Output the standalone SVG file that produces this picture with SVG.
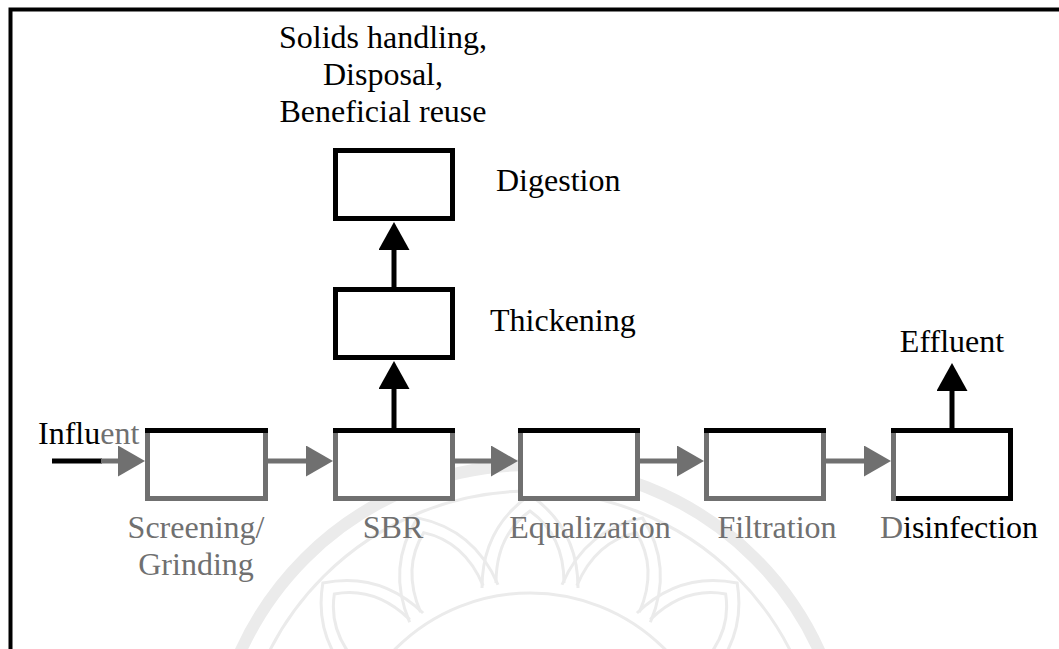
<svg xmlns="http://www.w3.org/2000/svg" xmlns:xlink="http://www.w3.org/1999/xlink" width="1059" height="649" viewBox="0 0 1059 649">
  <style>
    text { font-family: 'Liberation Serif', 'Times New Roman', Times, 'DejaVu Serif', serif; font-size: 32px; }
    .blk { fill: #000; }
    .gry { fill: #707070; }
    .box { fill: #fff; stroke: #000; stroke-width: 5; }
    .boxg { fill: #fff; stroke: #707070; stroke-width: 5; }
    .edge { stroke: #000; stroke-width: 5; fill: none; }
    .lineb { stroke: #000; stroke-width: 5; fill: none; }
    .lineg { stroke: #707070; stroke-width: 5; fill: none; }
    .wm { fill: none; stroke: #ebebeb; }
  </style>
  <defs>
    <marker id="ahB" markerUnits="userSpaceOnUse" markerWidth="28" markerHeight="31" refX="0" refY="15.5" orient="auto">
      <path d="M0,0 L28,15.5 L0,31 Z" fill="#000"/>
    </marker>
    <marker id="ahG" markerUnits="userSpaceOnUse" markerWidth="28" markerHeight="31" refX="0" refY="15.5" orient="auto">
      <path d="M0,0 L27,15.5 L0,31 Z" fill="#707070"/>
    </marker>
    <path id="petal" d="M-48,-195 Q-48,-255 0,-288 Q48,-255 48,-195 M-34,-200 Q-34,-248 0,-272 Q34,-248 34,-200"/>
  </defs>

  <rect width="1059" height="649" fill="#fff"/>

  <!-- faint watermark emblem -->
  <g id="watermark" transform="translate(530 783)">
    <circle r="318" class="wm" stroke-width="12"/>
    <circle r="292" class="wm" stroke-width="3"/>
    <g class="wm" stroke-width="3">
      <use xlink:href="#petal" transform="rotate(-69)"/>
      <use xlink:href="#petal" transform="rotate(-46)"/>
      <use xlink:href="#petal" transform="rotate(-23)"/>
      <use xlink:href="#petal"/>
      <use xlink:href="#petal" transform="rotate(23)"/>
      <use xlink:href="#petal" transform="rotate(46)"/>
      <use xlink:href="#petal" transform="rotate(69)"/>
    </g>
    <circle r="190" class="wm" stroke-width="3"/>
  </g>

  <!-- frame -->
  <path d="M10.5,649 V9.5 H1059" fill="none" stroke="#000" stroke-width="4"/>

  <!-- connectors -->
  <g id="connectors">
    <path class="lineb" d="M394,287 V250" marker-end="url(#ahB)"/>
    <path class="lineb" d="M394,428 V389" marker-end="url(#ahB)"/>
    <path class="lineb" d="M952,428 V391" marker-end="url(#ahB)"/>
    <path class="lineb" d="M52,461 H102"/>
    <path class="lineg" d="M101,461 H118" marker-end="url(#ahG)"/>
    <path class="lineg" d="M267,461 H306" marker-end="url(#ahG)"/>
    <path class="lineg" d="M455,461 H491" marker-end="url(#ahG)"/>
    <path class="lineg" d="M640,461 H677" marker-end="url(#ahG)"/>
    <path class="lineg" d="M826,461 H864" marker-end="url(#ahG)"/>
  </g>

  <!-- nodes -->
  <g id="solids" font-family="Liberation Serif, serif">
    <text class="blk" x="383" y="48" text-anchor="middle">Solids handling,</text>
    <text class="blk" x="383" y="85" text-anchor="middle">Disposal,</text>
    <text class="blk" x="383" y="122" text-anchor="middle">Beneficial reuse</text>
  </g>
  <g id="digestion">
    <rect class="box" x="335.5" y="150.5" width="117" height="68"/>
    <text class="blk" x="496" y="191">Digestion</text>
  </g>
  <g id="thickening">
    <rect class="box" x="335.5" y="289.5" width="117" height="68"/>
    <text class="blk" x="490" y="331">Thickening</text>
  </g>
  <g id="influent">
    <text x="38" y="444"><tspan class="blk">Influ</tspan><tspan class="gry">ent</tspan></text>
  </g>
  <g id="screening">
    <rect class="boxg" x="147.5" y="430.5" width="118" height="68"/>
    <path class="edge" d="M145,430.5 H268"/>
    <text class="gry" x="196" y="538" text-anchor="middle">Screening/</text>
    <text class="gry" x="196" y="575" text-anchor="middle">Grinding</text>
  </g>
  <g id="sbr">
    <rect class="boxg" x="335.5" y="430.5" width="117" height="68"/>
    <path class="edge" d="M333,430.5 H455"/>
    <text class="gry" x="393" y="538" text-anchor="middle">SBR</text>
  </g>
  <g id="equalization">
    <rect class="boxg" x="520.5" y="430.5" width="117" height="68"/>
    <path class="edge" d="M518,430.5 H640"/>
    <text class="gry" x="590" y="538" text-anchor="middle">Equalization</text>
  </g>
  <g id="filtration">
    <rect class="boxg" x="706.5" y="430.5" width="117" height="68"/>
    <path class="edge" d="M704,430.5 H826"/>
    <text class="gry" x="777" y="538" text-anchor="middle">Filtration</text>
  </g>
  <g id="disinfection">
    <rect class="box" x="893.5" y="430.5" width="117" height="68"/>
    <path d="M893.5,433 V501" stroke="#707070" stroke-width="5" fill="none"/>
    <text x="959" y="538" text-anchor="middle"><tspan class="gry">D</tspan><tspan class="blk">isinfection</tspan></text>
  </g>
  <g id="effluent">
    <text class="blk" x="952" y="352" text-anchor="middle">Effluent</text>
  </g>
</svg>
